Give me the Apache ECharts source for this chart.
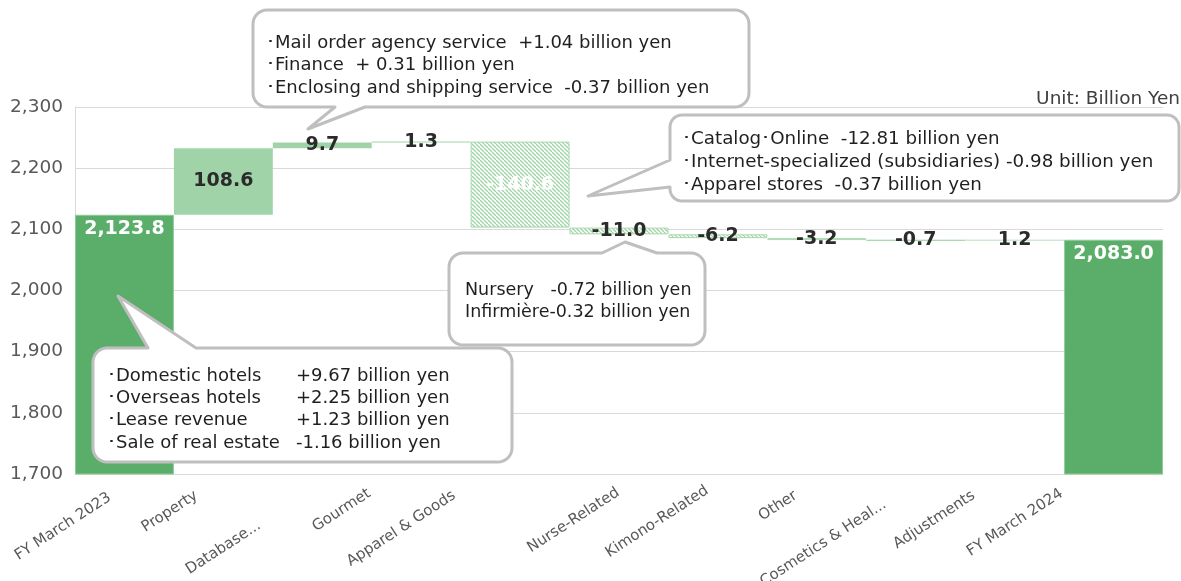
<!DOCTYPE html>
<html>
<head>
<meta charset="utf-8">
<script src="https://cdn.jsdelivr.net/npm/echarts@6/dist/echarts.min.js"></script>
<style>
html,body{margin:0;padding:0;background:#fff;}
#chart{width:1181px;height:581px;}
</style>
</head>
<body>
<div id="chart"></div>
<script>
// ---- data ----
const categories = ['FY March 2023','Property','Database...','Gourmet','Apparel & Goods','Nurse-Related','Kimono-Related','Other','Cosmetics & Heal...','Adjustments','FY March 2024'];
const totals = [2123.8, null, null, null, null, null, null, null, null, null, 2083.0];
const deltas = [null, 108.6, 9.7, 1.3, -140.6, -11.0, -6.2, -3.2, -0.7, 1.2, null];
const yTicks = [1700, 1800, 1900, 2000, 2100, 2200, 2300];
const unitText = 'Unit: Billion Yen';
const note1 = ['･Mail order agency service  +1.04 billion yen', '･Finance  + 0.31 billion yen', '･Enclosing and shipping service  -0.37 billion yen'];
const note2 = ['･Catalog･Online  -12.81 billion yen', '･Internet-specialized (subsidiaries) -0.98 billion yen', '･Apparel stores  -0.37 billion yen'];
const note3 = ['Nursery   -0.72 billion yen', 'Infirmière-0.32 billion yen'];
const note4Labels = ['･Domestic hotels', '･Overseas hotels', '･Lease revenue', '･Sale of real estate'];
const note4Values = ['+9.67 billion yen', '+2.25 billion yen', '+1.23 billion yen', '-1.16 billion yen'];

// layout-only: end point of each rotated category label relative to its tick (px)
const catLabelDx = [-19, -31, -67, -56, -70, -5, -15, -25, -35, -45, -56];
const catLabelDy = [16, 14, 44, 12, 14, 11, 9, 14, 23, 14, 12];

// ---- derived stacks ----
const baseArr = [], totalArr = [], posArr = [], negArr = [];
let running = 0;
for (let i = 0; i < categories.length; i++) {
  if (totals[i] != null) {
    running = totals[i];
    baseArr.push(0); totalArr.push(totals[i]); posArr.push('-'); negArr.push('-');
  } else {
    const d = deltas[i];
    const next = running + d;
    baseArr.push(Math.min(running, next));
    totalArr.push('-');
    if (d >= 0) { posArr.push(d); negArr.push('-'); }
    else { posArr.push('-'); negArr.push(Math.abs(d) > 50 ? {value: -d, label: {color: '#ffffff'}} : -d); }
    running = next;
  }
}

// hatch pattern
const pc = document.createElement('canvas');
pc.width = 4; pc.height = 4;
const pctx = pc.getContext('2d');
pctx.fillStyle = '#ffffff'; pctx.fillRect(0, 0, 4, 4);
pctx.strokeStyle = '#9fd4a7'; pctx.lineWidth = 1.3;
for (const o of [-4, 0, 4]) { pctx.beginPath(); pctx.moveTo(o, 0); pctx.lineTo(o + 4, 4); pctx.stroke(); }

const FONT = '"DejaVu Sans", Verdana, sans-serif';
const fmt1 = v => v.toLocaleString('en-US', {minimumFractionDigits: 1, maximumFractionDigits: 1});

function arcPts(cx, cy, r, a0, a1) {
  const pts = [];
  for (let k = 0; k <= 8; k++) {
    const a = a0 + (a1 - a0) * k / 8;
    pts.push([cx + r * Math.cos(a), cy + r * Math.sin(a)]);
  }
  return pts;
}
function calloutPoints(x, y, w, h, r, side, b1, b2, tx, ty) {
  const P = Math.PI;
  let pts = [];
  pts = pts.concat(arcPts(x + r, y + r, r, P, 1.5 * P));
  if (side === 'top') pts.push([b1, y], [tx, ty], [b2, y]);
  pts = pts.concat(arcPts(x + w - r, y + r, r, 1.5 * P, 2 * P));
  pts = pts.concat(arcPts(x + w - r, y + h - r, r, 0, 0.5 * P));
  if (side === 'bottom') pts.push([b2, y + h], [tx, ty], [b1, y + h]);
  pts = pts.concat(arcPts(x + r, y + h - r, r, 0.5 * P, P));
  if (side === 'left') pts.push([x, b2], [tx, ty], [x, b1]);
  return pts;
}
function calloutShape(pts) {
  return {type: 'polygon', z: 100, shape: {points: pts},
    style: {fill: '#ffffff', stroke: '#bfbfbf', lineWidth: 3, lineJoin: 'round'}};
}
function textEl(t, x, y, size) {
  return {type: 'text', z: 101, style: {text: t, x: x, y: y, fill: '#1f1f1f', font: (size || 18) + 'px ' + FONT,
    textAlign: 'left', textVerticalAlign: 'middle'}};
}

const chart = echarts.init(document.getElementById('chart'), null, {renderer: 'canvas'});
const labelBase = {show: true, position: 'inside', fontFamily: FONT, fontWeight: 'bold', fontSize: 19, color: '#2b2b2b'};
chart.setOption({
  animation: false,
  grid: {left: 75, right: 18, top: 107, bottom: 107},
  xAxis: {
    type: 'category', data: categories,
    axisLine: {show: true, lineStyle: {color: '#d9d9d9'}},
    axisTick: {show: false},
    axisLabel: {show: false}
  },
  yAxis: {
    type: 'value', min: yTicks[0], max: yTicks[yTicks.length - 1], interval: 100,
    axisLine: {show: true, lineStyle: {color: '#d9d9d9'}},
    axisTick: {show: false},
    splitLine: {lineStyle: {color: '#d9d9d9'}},
    axisLabel: {fontSize: 18.5, color: '#595959', fontFamily: FONT, margin: 12,
      formatter: v => v.toLocaleString('en-US')}
  },
  series: [
    {name: 'base', type: 'bar', stack: 'w', data: baseArr, barCategoryGap: '0%',
      itemStyle: {color: 'transparent'}, silent: true},
    {name: 'total', type: 'bar', stack: 'w', data: totalArr,
      itemStyle: {color: '#5bae6a', borderColor: '#8fcb99', borderWidth: 1},
      label: Object.assign({}, labelBase, {position: 'insideTop', color: '#ffffff', formatter: p => fmt1(p.value)})},
    {name: 'up', type: 'bar', stack: 'w', data: posArr,
      itemStyle: {color: '#a0d4a8'},
      label: Object.assign({}, labelBase, {formatter: p => fmt1(deltas[p.dataIndex])})},
    {name: 'down', type: 'bar', stack: 'w', data: negArr,
      itemStyle: {color: {image: pc, repeat: 'repeat'}, borderColor: '#a8d8b0', borderWidth: 1},
      label: Object.assign({}, labelBase, {formatter: p => fmt1(deltas[p.dataIndex])})}
  ]
});

// graphics: rotated category labels (positioned from the axis scale), callouts, unit
const graphics = [];
const axisY = chart.convertToPixel({yAxisIndex: 0}, yTicks[0]);
categories.forEach((c, i) => {
  const cx = chart.convertToPixel({xAxisIndex: 0}, c);
  graphics.push({type: 'text', z: 50, x: cx + catLabelDx[i], y: axisY + catLabelDy[i], rotation: 33 * Math.PI / 180,
    style: {text: c, x: 0, y: 0, fill: '#595959', font: '15px ' + FONT, textAlign: 'right', textVerticalAlign: 'top'}});
});
graphics.push(calloutShape(calloutPoints(253, 10, 496, 97, 14, 'bottom', 335, 365, 308, 129)));
note1.forEach((t, i) => graphics.push(textEl(t, 266, 43 + i * 22.5)));
graphics.push(calloutShape(calloutPoints(670, 115, 509, 86, 12, 'left', 160, 187, 588, 196)));
note2.forEach((t, i) => graphics.push(textEl(t, 682, 139 + i * 23, 18.3)));
graphics.push(calloutShape(calloutPoints(449, 253, 256, 92, 14, 'top', 602, 657, 625, 242)));
note3.forEach((t, i) => graphics.push(textEl(t, 465, 290 + i * 22, 17.5)));
graphics.push(calloutShape(calloutPoints(93, 348, 419, 114, 14, 'top', 148, 196, 118, 296)));
note4Labels.forEach((t, i) => graphics.push(textEl(t, 107, 376 + i * 22.3)));
note4Values.forEach((t, i) => graphics.push(textEl(t, 296, 376 + i * 22.3)));
graphics.push({type: 'text', z: 101, style: {text: unitText, x: 1180, y: 99, fill: '#404040', font: '18.5px ' + FONT, textAlign: 'right', textVerticalAlign: 'middle'}});
chart.setOption({graphic: graphics});
</script>
</body>
</html>
